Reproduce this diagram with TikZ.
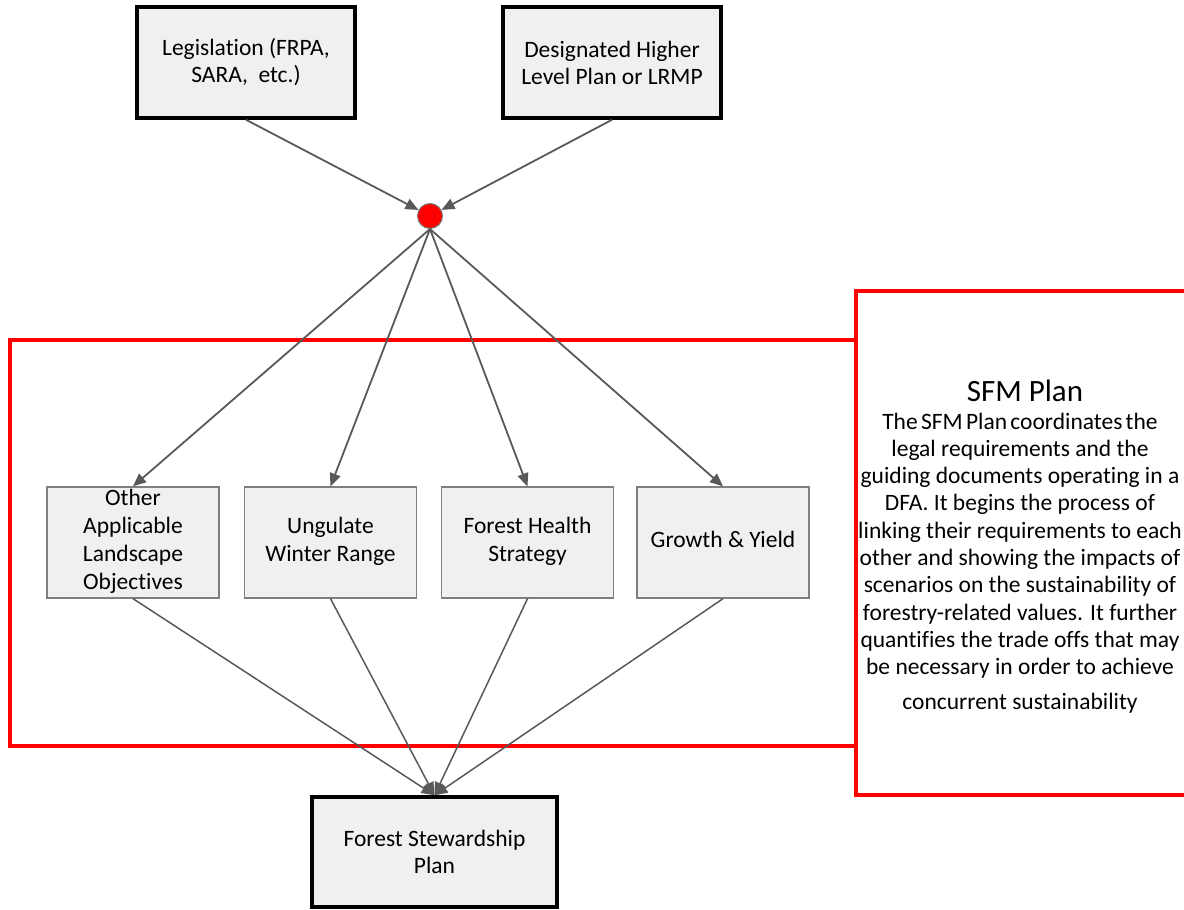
\documentclass[tikz,border=0pt]{standalone}
\usepackage{fontspec}
\setmainfont[Ligatures={NoCommon}]{Carlito}
\usetikzlibrary{arrows.meta}
\definecolor{conn}{HTML}{595959}
\definecolor{boxfill}{HTML}{F0F0F0}
\definecolor{midborder}{HTML}{7F7F7F}
\definecolor{sfmred}{HTML}{FF0000}
\newcommand{\tightwords}{\spaceskip=0.14em plus 0.05em minus 0.02em\relax}
\begin{document}
\begin{tikzpicture}[x=1pt,y=-1pt,
  topbox/.style={draw=black, line width=3.5pt, fill=boxfill, minimum width=218pt, minimum height=111pt, align=center, inner sep=0pt, font=\fontsize{23.5}{27}\selectfont},
  midbox/.style={draw=midborder, line width=1.3pt, fill=boxfill, minimum width=172pt, minimum height=111pt, align=center, inner sep=0pt, text depth=6pt, font=\fontsize{23.5}{28}\selectfont},
  junction/.style={circle, fill=sfmred, draw=conn!80, line width=1pt, minimum size=25pt, inner sep=0pt},
  conarrow/.style={draw=conn, line width=1.8pt, -{Triangle[length=13pt,width=11pt]}},
  conline/.style={draw=conn, line width=1.5pt, -{Triangle[length=13pt,width=11pt]}},
  redframe/.style={draw=sfmred, line width=4pt},
  sfmtitle/.style={font=\fontsize{31}{36}\selectfont, inner sep=0pt},
  sfmbody/.style={align=center, inner sep=0pt, font={\fontsize{23.5}{27.3}\selectfont}}
]
\useasboundingbox (0,0) rectangle (1184,910);

% red frames
\draw[redframe] (10,340) rectangle (856,746);
\draw[redframe, fill=white] (856,291) rectangle (1200,795);

% nodes
\node[topbox] (leg) at (246,62.5) {Legislation (FRPA,\\SARA, \ etc.)};
\node[topbox] (dhlp) at (612,62.5) {Designated Higher\\Level Plan or LRMP};
\node[junction] (dot) at (430,216) {};

\node[midbox] (oth) at (133,542.5) {Other\\Applicable\\Landscape\\Objectives};
\node[midbox] (ung) at (330.5,542.5) {Ungulate\\Winter Range};
\node[midbox] (fhs) at (527.5,542.5) {Forest Health\\Strategy};
\node[midbox] (gy) at (723,542.5) {Growth \& Yield};

\node[topbox, minimum width=245pt, minimum height=110pt] (fsp) at (434.5,852) {Forest Stewardship\\Plan};

% SFM text
\node[sfmtitle, anchor=base] (sfmt) at (1025,401) {SFM Plan};
\node[sfmbody, anchor=base] (sfmb) at (1020,709) {\tightwords The SFM Plan coordinates the\\
legal requirements and the\\
guiding documents operating in a\\
DFA. It begins the process of\\
linking their requirements to each\\
other and showing the impacts of\\
scenarios on the sustainability of\\
forestry-related values. It further\\
quantifies the trade offs that may\\
be necessary in order to achieve\\[7pt]
concurrent sustainability};

% connectors
\draw[conarrow] (leg.south) -- (dot);
\draw[conarrow] (dhlp.south) -- (dot);
\draw[conarrow] (dot.south) -- (oth.north);
\draw[conarrow] (dot.south) -- (ung.north);
\draw[conarrow] (dot.south) -- (fhs.north);
\draw[conarrow] (dot.south) -- (gy.north);
\draw[conline] (oth.south) -- (fsp.north);
\draw[conline] (ung.south) -- (fsp.north);
\draw[conline] (fhs.south) -- (fsp.north);
\draw[conline] (gy.south) -- (fsp.north);
\end{tikzpicture}
\end{document}
